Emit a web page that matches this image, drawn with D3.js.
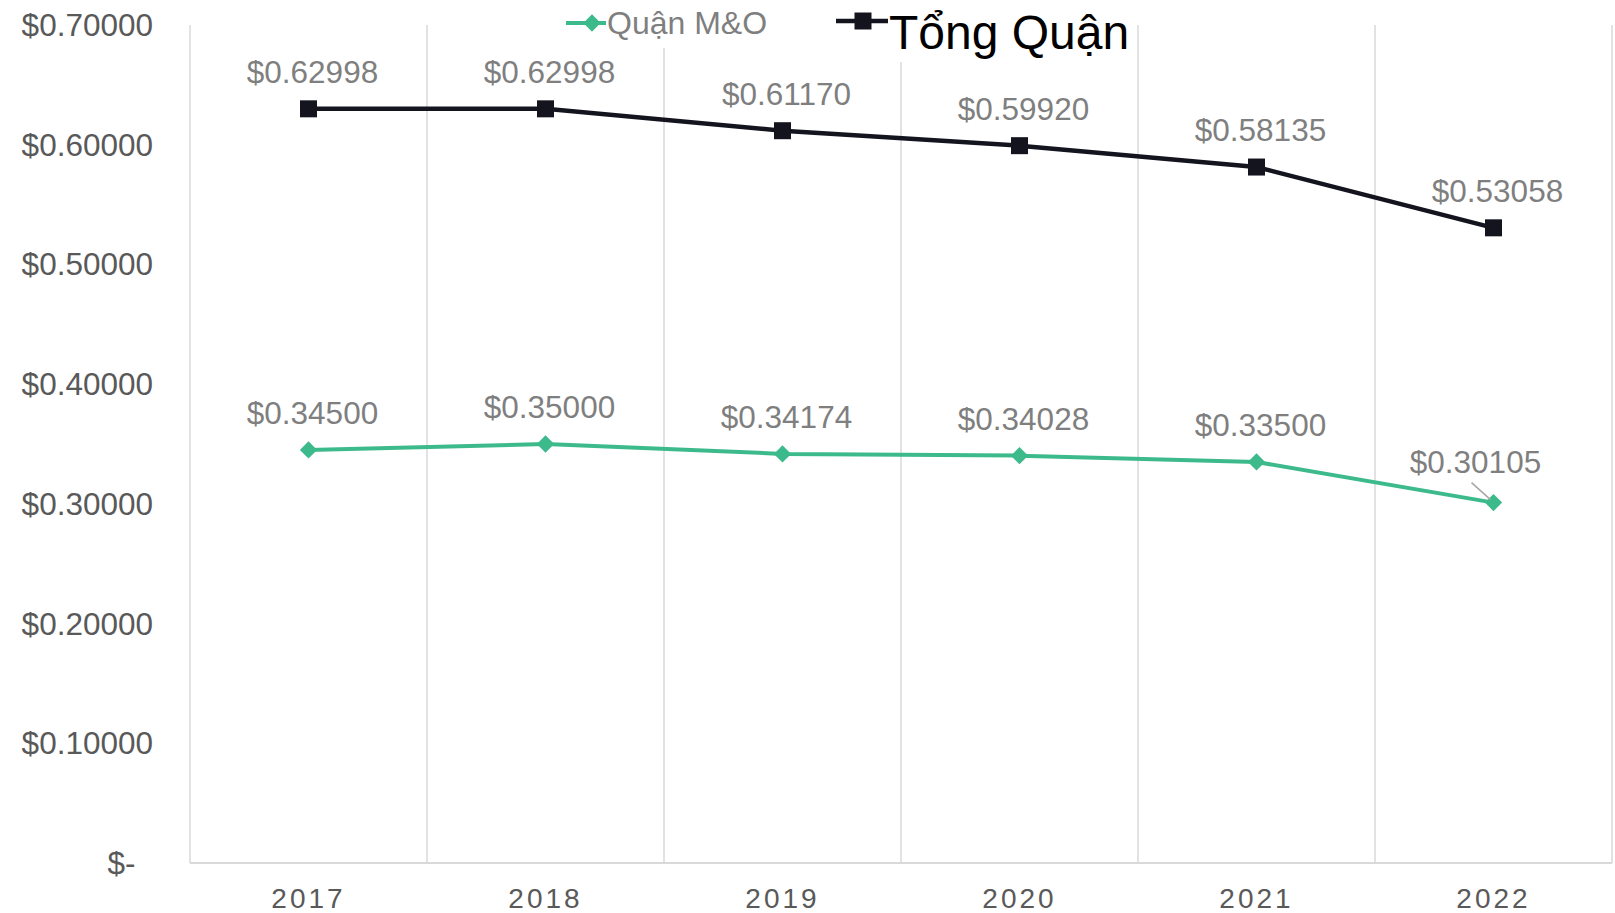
<!DOCTYPE html>
<html>
<head>
<meta charset="utf-8">
<script src="https://cdn.jsdelivr.net/npm/d3@7"></script>
<style>
    body { margin: 0; background: #fff; }
    svg { display: block; font-family: "Liberation Sans", Arial, sans-serif; }
</style>
</head>
<body>
<div id="chart"></div>
<script>
//Chart data
var years = ["2017", "2018", "2019", "2020", "2021", "2022"];
var tongQuan = [0.62998, 0.62998, 0.61170, 0.59920, 0.58135, 0.53058];
var quanMO = [0.34500, 0.35000, 0.34174, 0.34028, 0.33500, 0.30105];
var yTicks = [0, 0.1, 0.2, 0.3, 0.4, 0.5, 0.6, 0.7];
var seriesNames = ["Quận M&O", "Tổng Quận"];

var width = 1615;
var height = 913;
var margin = { left: 190, right: 3, top: 25, bottom: 50 };
var green = "#3dba8b";
var dark = "#14141f";

var svg = d3.select("#chart").append("svg")
    .attr("width", width)
    .attr("height", height);

var x = d3.scaleBand()
    .domain(years)
    .range([margin.left, width - margin.right]);

var y = d3.scaleLinear()
    .domain([0, 0.7])
    .range([height - margin.bottom, margin.top]);

var fmt = d3.format("$.5f");

//Vertical grid lines at category boundaries
var bounds = years.map(function(d) { return x(d); }).concat([x.range()[1]]);
svg.selectAll(".vgrid").data(bounds)
    .enter().append("line")
    .attr("class", "vgrid")
    .attr("x1", function(d) { return d; })
    .attr("x2", function(d) { return d; })
    .attr("y1", y(0.7))
    .attr("y2", y(0))
    .attr("stroke", "#d9d9d9")
    .attr("stroke-width", 1.5);

//Bottom axis line
svg.append("line")
    .attr("x1", x.range()[0])
    .attr("x2", x.range()[1])
    .attr("y1", y(0))
    .attr("y2", y(0))
    .attr("stroke", "#d9d9d9")
    .attr("stroke-width", 2);

//Y tick labels (zero gets the accounting dash with padding)
svg.selectAll(".ytick").data(yTicks)
    .enter().append("text")
    .attr("class", "ytick")
    .attr("x", 153)
    .attr("y", function(d) { return y(d); })
    .attr("dy", "0.35em")
    .attr("text-anchor", "end")
    .attr("fill", "#595959")
    .style("font-size", "31.5px")
    .style("white-space", "pre")
    .text(function(d) { return d === 0 ? "$-  " : fmt(d); });

//X tick labels
svg.selectAll(".xtick").data(years)
    .enter().append("text")
    .attr("class", "xtick")
    .attr("x", function(d) { return x(d) + x.bandwidth() / 2; })
    .attr("y", height - margin.bottom + 45)
    .attr("text-anchor", "middle")
    .attr("fill", "#595959")
    .style("font-size", "28px")
    .style("letter-spacing", "3px")
    .text(function(d) { return d; });

var line = d3.line()
    .x(function(d, i) { return x(years[i]) + x.bandwidth() / 2; })
    .y(function(d) { return y(d); });

//Dark series
svg.append("path")
    .datum(tongQuan)
    .attr("d", line)
    .attr("fill", "none")
    .attr("stroke", dark)
    .attr("stroke-width", 4.5);

svg.selectAll(".sq").data(tongQuan)
    .enter().append("rect")
    .attr("class", "sq")
    .attr("x", function(d, i) { return x(years[i]) + x.bandwidth() / 2 - 8.5; })
    .attr("y", function(d) { return y(d) - 8.5; })
    .attr("width", 17)
    .attr("height", 17)
    .attr("fill", dark);

//Green series
svg.append("path")
    .datum(quanMO)
    .attr("d", line)
    .attr("fill", "none")
    .attr("stroke", green)
    .attr("stroke-width", 4);

var diamond = d3.symbol().type(d3.symbolDiamond2).size(190);
svg.selectAll(".dm").data(quanMO)
    .enter().append("path")
    .attr("class", "dm")
    .attr("d", diamond)
    .attr("transform", function(d, i) {
        return "translate(" + (x(years[i]) + x.bandwidth() / 2) + "," + y(d) + ")";
    })
    .attr("fill", green);

//Data labels
function labels(data, cls) {
    svg.selectAll("." + cls).data(data)
        .enter().append("text")
        .attr("class", cls)
        .attr("x", function(d, i) {
            var cx = x(years[i]) + x.bandwidth() / 2 + 4;
            return (cls === "lg" && i === 5) ? cx - 22 : cx;
        })
        .attr("y", function(d, i) { return y(d) - ((cls === "lg" && i === 5) ? 41 : 37); })
        .attr("dy", "0.35em")
        .attr("text-anchor", "middle")
        .attr("fill", "#7f7f7f")
        .style("font-size", "31.5px")
        .text(function(d) { return fmt(d); });
}
labels(tongQuan, "ld");
labels(quanMO, "lg");

//Leader line for the last green label
var lx = x(years[5]) + x.bandwidth() / 2;
svg.append("line")
    .attr("x1", lx - 22)
    .attr("y1", y(quanMO[5]) - 20)
    .attr("x2", lx - 3)
    .attr("y2", y(quanMO[5]) - 3)
    .attr("stroke", "#a6a6a6")
    .attr("stroke-width", 1.5);

//Legend, each entry on a white box that hides the grid
var legend = svg.append("g");
legend.append("rect").attr("x", 560).attr("y", 0).attr("width", 215).attr("height", 48).attr("fill", "#fff");
legend.append("rect").attr("x", 830).attr("y", 0).attr("width", 305).attr("height", 62).attr("fill", "#fff");

legend.append("line")
    .attr("x1", 566).attr("x2", 606).attr("y1", 23).attr("y2", 23)
    .attr("stroke", green).attr("stroke-width", 4);
legend.append("path")
    .attr("d", diamond)
    .attr("transform", "translate(592,23)")
    .attr("fill", green);
legend.append("text")
    .attr("x", 607).attr("y", 23).attr("dy", "0.35em")
    .attr("fill", "#7f7f7f")
    .style("font-size", "32px")
    .text(seriesNames[0]);

legend.append("line")
    .attr("x1", 836).attr("x2", 888).attr("y1", 21).attr("y2", 21)
    .attr("stroke", dark).attr("stroke-width", 4.5);
legend.append("rect")
    .attr("x", 854.5).attr("y", 12.5).attr("width", 17).attr("height", 17)
    .attr("fill", dark);
legend.append("text")
    .attr("x", 889).attr("y", 49)
    .attr("fill", "#000")
    .style("font-size", "48px")
    .text(seriesNames[1]);
</script>
</body>
</html>
